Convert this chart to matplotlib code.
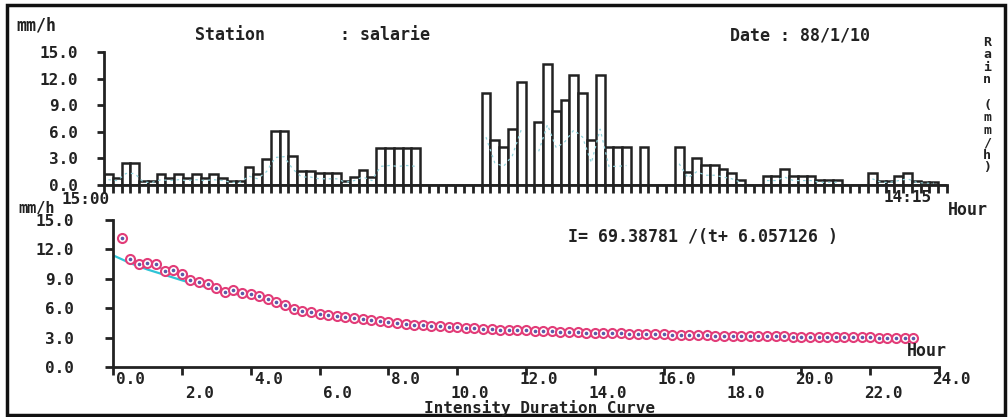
import numpy as np
import matplotlib
matplotlib.use("Agg")
import matplotlib.pyplot as plt
import matplotlib.transforms as mtransforms
from matplotlib.patches import Rectangle

W, H = 1008, 417

# rainfall intensity of each 15 min slot (mm/h), 15:00 -> 14:15 next day
rain = [1.2, 0.75, 2.45, 2.45, 0.4, 0.4, 1.2, 0.8, 1.2, 0.8,
        1.2, 0.8, 1.2, 0.8, 0.4, 0.4, 2.0, 1.2, 2.9, 6.1,
        6.1, 3.3, 1.6, 1.6, 1.3, 1.3, 1.3, 0.45, 0.9, 1.7,
        0.9, 4.2, 4.2, 4.2, 4.2, 4.2, 0, 0, 0, 0,
        0, 0, 0, 10.4, 5.1, 4.25, 6.3, 11.6, 0, 7.1,
        13.7, 8.3, 9.6, 12.4, 10.4, 5.1, 12.4, 4.25, 4.25, 4.25,
        0, 4.25, 0, 0, 0, 4.25, 1.5, 3.0, 2.2, 2.2,
        1.75, 1.4, 0.55, 0, 0, 1.0, 1.0, 1.75, 1.0, 1.0,
        1.0, 0.55, 0.55, 0.55, 0, 0, 0, 1.4, 0.5, 0.5,
        1.0, 1.4, 0.5, 0.3, 0.3, 0]

# light cyan dashed trace drawn inside the bars
rain_trace = [0.6, 0.5, 1.3, 1.3, 0.3, 0.3, 0.6, 0.5, 0.6, 0.5,
              0.6, 0.5, 0.6, 0.5, 0.3, 0.3, 1.0, 0.7, 1.5, 3.1,
              3.2, 1.8, 0.9, 0.9, 0.7, 0.7, 0.7, 0.3, 0.5, 0.9,
              0.5, 2.1, 2.2, 2.1, 2.2, 2.1, 0, 0, 0, 0,
              0, 0, 0, 5.4, 2.5, 2.1, 3.3, 6.2, 0, 3.8,
              6.8, 4.2, 4.9, 6.2, 5.4, 2.5, 6.3, 2.1, 2.1, 2.2,
              0, 2.1, 0, 0, 0, 2.4, 0.8, 1.5, 1.1, 1.1,
              0.9, 0.7, 0.3, 0, 0, 0.5, 0.5, 0.9, 0.5, 0.5,
              0.5, 0.3, 0.3, 0.3, 0, 0, 0, 0.7, 0.3, 0.3,
              0.5, 0.7, 0.3, 0.2, 0.2, 0]

time_labels = ["15:00", "14:15"]
time_label_pos = [0, 91.5]

# intensity duration curve (duration in hours, mm/h)
durations = np.arange(0.25, 23.26, 0.25)
intensity = [13.2, 11.0, 10.5, 10.6, 10.5, 9.8, 9.9, 9.5, 8.9, 8.7,
             8.5, 8.1, 7.7, 7.9, 7.6, 7.4, 7.2, 6.9, 6.6, 6.3,
             5.9, 5.7, 5.6, 5.4, 5.3, 5.2, 5.1, 5.0, 4.9, 4.8,
             4.7, 4.6, 4.5, 4.4, 4.3, 4.25, 4.2, 4.15, 4.1, 4.05,
             4.0, 3.95, 3.9, 3.85, 3.82, 3.79, 3.76, 3.73, 3.7, 3.67,
             3.64, 3.61, 3.58, 3.55, 3.52, 3.49, 3.46, 3.44, 3.42, 3.4,
             3.38, 3.36, 3.34, 3.32, 3.3, 3.28, 3.26, 3.24, 3.22, 3.2,
             3.19, 3.18, 3.17, 3.16, 3.15, 3.14, 3.13, 3.12, 3.11, 3.1,
             3.09, 3.08, 3.07, 3.06, 3.05, 3.04, 3.03, 3.02, 3.01, 3.0,
             2.99, 2.98, 2.97]

# fitted curve
fit_t = [0, 0.5, 1, 1.5, 2, 2.5, 3, 3.5, 4, 4.5, 5, 5.5, 6, 7, 8,
         10, 12, 14, 16, 18, 20, 22, 23.25]
fit_i = [11.4, 10.6, 9.95, 9.4, 8.85, 8.35, 7.9, 7.5, 7.15, 6.8, 6.3, 5.85,
         5.45, 5.0, 4.6, 3.97, 3.66, 3.42, 3.3, 3.16, 3.08, 3.02, 2.95]

equation = "I= 69.38781 /(t+ 6.057126 )"
station = "salarie"
date = "88/1/10"

INK = "#222222"
font = dict(family="DejaVu Sans Mono", weight="bold", color=INK, fontsize=12)
tick_font = dict(font, fontsize=11.5)


def px(x, y):
    """pixel position -> figure fraction"""
    return x / W, 1 - y / H


fig = plt.figure(figsize=(W / 100, H / 100), dpi=100)
fig.patch.set_facecolor("white")

# ---------- hyetograph ----------
ax1 = fig.add_axes([104 / W, 1 - 185 / H, (947 - 104) / W, (185 - 52) / H])
n = len(rain)
ax1.bar(np.arange(n), rain, width=1.0, align="edge", facecolor="white",
        edgecolor=INK, linewidth=1.8, zorder=2)
trace = np.array(rain_trace, dtype=float)
trace[trace == 0] = np.nan
ax1.plot(np.arange(n) + 0.5, trace, color="#92d4dd", lw=0.9,
         linestyle=(0, (2, 3)), zorder=3)
ax1.set_xlim(0, n)
ax1.set_ylim(0, 15)
ax1.set_yticks(np.arange(0, 16, 3))
ax1.set_yticklabels([f"{v:.1f}" for v in np.arange(0, 16, 3)], **tick_font)
ax1.set_xticks(np.arange(0, n + 1))
ax1.set_xticklabels([])
ax1.tick_params(axis="y", direction="out", length=5, width=2, pad=14, colors=INK)
ax1.tick_params(axis="x", direction="out", length=6, width=2, colors=INK)
for s in ["top", "right"]:
    ax1.spines[s].set_visible(False)
for s in ["left", "bottom"]:
    ax1.spines[s].set_linewidth(2)
    ax1.spines[s].set_color(INK)
ax1.patch.set_alpha(0)

tr1 = mtransforms.blended_transform_factory(ax1.transData, fig.transFigure)
ax1.text(time_label_pos[0] + 0.6, px(0, 200)[1], time_labels[0], transform=tr1,
         ha="right", va="center", **tick_font)
ax1.text(time_label_pos[1], px(0, 198)[1], time_labels[1], transform=tr1,
         ha="center", va="center", **tick_font)

# ---------- intensity duration curve ----------
ax2 = fig.add_axes([113 / W, 1 - 367 / H, (939 - 113) / W, (367 - 220) / H])
ax2.plot(fit_t, fit_i, color="#2ec4d6", lw=1.6, zorder=2)
ax2.plot(durations[1:], intensity[1:], color="#4a4aa8", lw=0.9, zorder=3)
ax2.plot(durations, intensity, linestyle="none", marker="o", ms=6.5,
         mfc="white", mec="#e23c78", mew=1.5, zorder=4)
ax2.plot(durations, intensity, linestyle="none", marker="o", ms=1.6,
         color="#5a5aa8", zorder=5)
ax2.set_xlim(0, 24)
ax2.set_ylim(0, 15)
ax2.set_yticks(np.arange(0, 16, 3))
ax2.set_yticklabels([f"{v:.1f}" for v in np.arange(0, 16, 3)], **tick_font)
xt = np.arange(0, 25, 2)
ax2.set_xticks(xt)
ax2.set_xticklabels([])
ax2.tick_params(axis="y", direction="out", length=6, width=2, pad=22, colors=INK)
ax2.tick_params(axis="x", direction="out", length=6, width=2, colors=INK)
for s in ["top", "right"]:
    ax2.spines[s].set_visible(False)
for s in ["left", "bottom"]:
    ax2.spines[s].set_linewidth(2)
    ax2.spines[s].set_color(INK)
ax2.patch.set_alpha(0)

tr2 = mtransforms.blended_transform_factory(ax2.transData, fig.transFigure)
tr2 = tr2 + mtransforms.ScaledTranslation(32 / 100, 0, fig.dpi_scale_trans)
for i, t in enumerate(xt):
    y = 380 if i % 2 == 0 else 393
    ax2.text(t, px(0, y)[1], f"{t:.1f}", transform=tr2, ha="right",
             va="center", **tick_font)

# ---------- titles and labels ----------
fig.text(*px(36, 25), "mm/h", ha="center", va="center", **font)
fig.text(*px(37, 208), "mm/h", ha="center", va="center",
         **dict(font, fontsize=11))
fig.text(*px(195, 35), "Station", ha="left", va="center", **font)
fig.text(*px(340, 35), ": " + station, ha="left", va="center", **font)
fig.text(*px(730, 35), "Date : " + date, ha="left", va="center", **font)
fig.text(*px(968, 210), "Hour", ha="center", va="center", **font)
fig.text(*px(927, 351), "Hour", ha="center", va="center", **font)
fig.text(*px(568, 237), equation, ha="left", va="center", **font)
fig.text(*px(540, 408), "Intensity Duration Curve", ha="center",
         va="center", **dict(font, fontsize=11.5))
for k, ch in enumerate("Rain (mm/h)"):
    fig.text(*px(987, 42 + 12.6 * k), ch, ha="center", va="center",
             family="DejaVu Sans Mono", weight="bold", color=INK, fontsize=9.5)

# screen frame
x0, y0 = px(7, 415)
x1, y1 = px(1005, 5)
fig.patches.append(Rectangle((x0, y0), x1 - x0, y1 - y0, transform=fig.transFigure,
                             fill=False, edgecolor="#111111", linewidth=2.5))

fig.savefig("out.png", dpi=100)
